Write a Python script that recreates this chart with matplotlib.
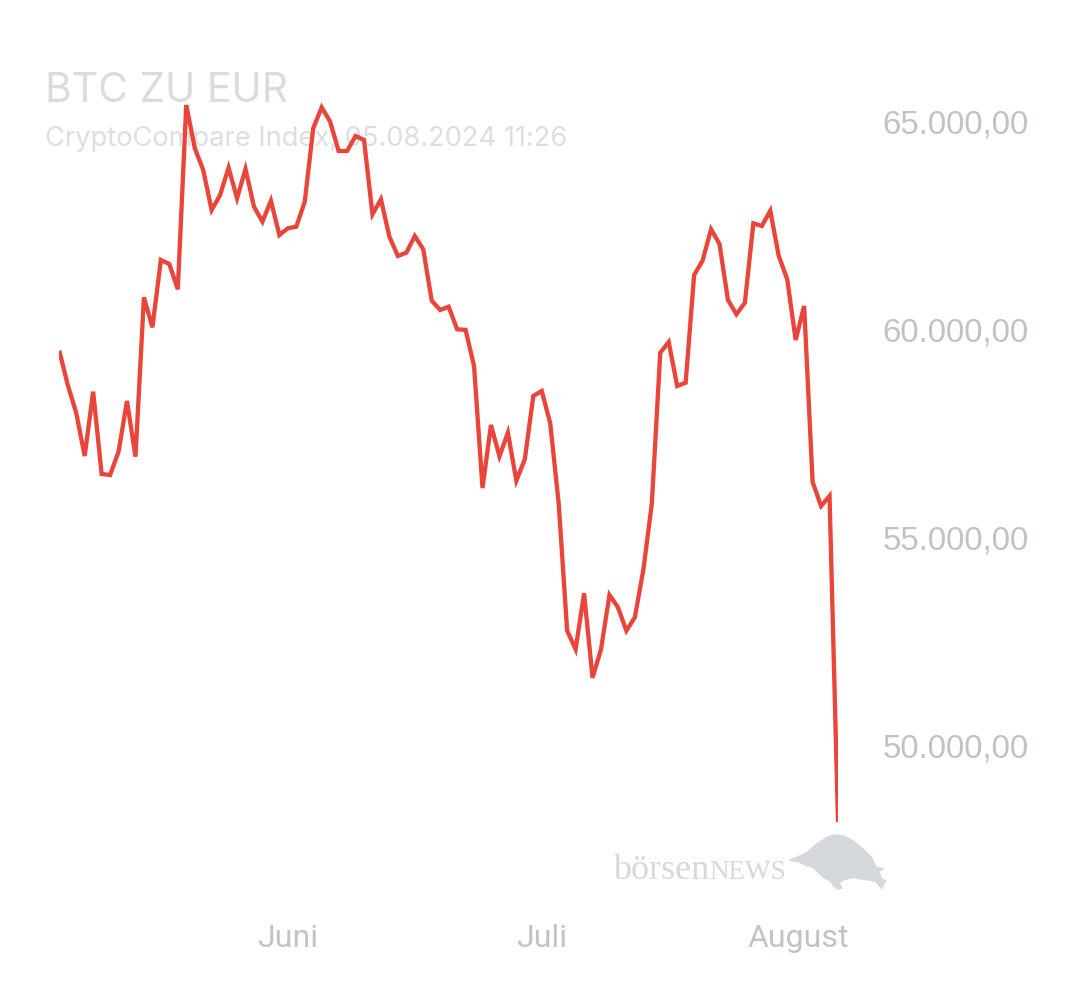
import matplotlib
matplotlib.use("Agg")
import matplotlib.pyplot as plt
from matplotlib.patches import Polygon
import matplotlib.transforms as mtransforms
import pandas as pd

# ---------------- data ----------------
start_date = "2024-05-05"
end_date = "2024-08-05"
prices = [
    59494, 58668, 57994, 56958, 58507, 56525, 56501, 57062, 58283, 56942,
    60779, 60057, 61677, 61581, 60972, 65409, 64374, 63844, 62881, 63242,
    63900, 63163, 63868, 62961, 62600, 63105, 62279, 62441, 62479, 63081,
    64848, 65354, 65007, 64302, 64302, 64663, 64567, 62778, 63139, 62238,
    61774, 61853, 62255, 61935, 60697, 60474, 60553, 60009, 59995, 59125,
    56188, 57705, 56951, 57519, 56364, 56879, 58403, 58523, 57746, 55819,
    52752, 52304, 53652, 51620, 52304, 53612, 53315, 52752, 53074, 54214,
    55803, 59445, 59703, 58644, 58723, 61316, 61661, 62417, 62063, 60714,
    60370, 60649, 62561, 62496, 62864, 61774, 61213, 59751, 60570, 56332,
    55754, 55995, 48146,
]
y_ticks = [50000, 55000, 60000, 65000]
y_tick_labels = ["50.000,00", "55.000,00", "60.000,00", "65.000,00"]
x_tick_dates = ["2024-06-01", "2024-07-01", "2024-08-01"]
x_tick_labels = ["Juni", "Juli", "August"]
title = "BTC ZU EUR"
subtitle = "CryptoCompare Index, 05.08.2024 11:26"
logo_word = "börsen"
logo_caps = "NEWS"

dates = pd.date_range(start_date, end_date, freq="D")

# ---------------- layout ----------------
W, H = 1080, 990
fig = plt.figure(figsize=(W / 100, H / 100), dpi=100)
fig.patch.set_facecolor("white")

def fx(px):
    return px / W

def fy(py):
    return 1 - py / H

ax_left, ax_right, ax_top, ax_bottom = 59.3, 838.0, 60.0, 900.0
ax = fig.add_axes([fx(ax_left), fy(ax_bottom), fx(ax_right - ax_left), (ax_bottom - ax_top) / H])
ax.set_facecolor("none")
ax.set_zorder(5)

# value <-> pixel mapping
px_per_unit = (745 - 122) / 15000.0
y_top = 65000 + (122 - ax_top) / px_per_unit
y_bot = 65000 - (ax_bottom - 122) / px_per_unit

ax.plot(dates, prices, color="#e9453a", lw=3.1, solid_joinstyle="miter", solid_capstyle="butt", zorder=3)
ax.set_xlim(dates[0], dates[-1])
ax.set_ylim(y_bot, y_top)

for s in ax.spines.values():
    s.set_visible(False)

ax.yaxis.tick_right()
ax.set_yticks(y_ticks)
ax.set_yticklabels(y_tick_labels, fontfamily="Liberation Sans", fontsize=23.8, color="#bfc3c8")
ax.tick_params(axis="y", length=0, pad=32.0)

ax.set_xticks(pd.to_datetime(x_tick_dates))
ax.set_xticklabels(x_tick_labels, fontfamily="Roboto", fontsize=23, color="#c0c4c9")
ax.tick_params(axis="x", length=0, pad=17)
# the last month label sits slightly left of its tick in the reference
last = ax.get_xticklabels()[-1]
last.set_transform(last.get_transform() + mtransforms.ScaledTranslation(-6 / 100, 0, fig.dpi_scale_trans))

# ---------------- title / subtitle ----------------
t1 = fig.text(fx(45), fy(101.7), title, fontfamily="Inter", fontsize=28, color="#d9dbde",
              va="baseline", ha="left", zorder=1)
t2 = fig.text(fx(45), fy(146), subtitle, fontfamily="Inter", fontsize=19, color="#dcdee1",
              va="baseline", ha="left", zorder=1)

fig.canvas.draw()
r = fig.canvas.get_renderer()
for t, target in ((t1, 243.0), (t2, 523.0)):
    w = t.get_window_extent(r).width
    t.set_fontsize(t.get_fontsize() * target / w)

# ---------------- logo ----------------
lw1 = fig.text(fx(613), fy(879), logo_word, fontfamily="Liberation Serif", fontsize=26, color="#d5d8dc",
               va="baseline", ha="left", zorder=1)
fig.canvas.draw()
bb = lw1.get_window_extent(r)
fig.text(bb.x1 / W + 0.5 / W, fy(879), logo_caps, fontfamily="Liberation Serif", fontsize=19.5,
         color="#d5d8dc", va="baseline", ha="left", zorder=1)

bull_px = [
    (788.3, 860.0), (796.7, 856.7), (806.7, 851.7), (816.7, 843.0), (826.7, 836.7),
    (833.3, 834.3), (843.3, 835.0), (853.3, 840.0), (863.3, 848.3), (871.7, 856.7),
    (876.7, 866.7), (885.0, 868.3), (880.0, 871.7), (881.7, 878.3), (886.7, 880.0),
    (885.0, 883.3), (881.7, 890.0), (879.3, 886.7), (875.0, 881.7), (863.3, 880.0),
    (853.3, 878.3), (845.0, 880.0), (840.0, 883.3), (843.3, 888.3), (838.3, 890.0),
    (833.3, 886.7), (830.0, 881.7), (823.3, 878.3), (816.7, 871.7), (813.3, 868.3),
    (808.3, 866.7), (803.3, 865.0), (798.3, 862.3), (791.7, 861.7),
]
bull = Polygon([(fx(x), fy(y)) for x, y in bull_px], closed=True, transform=fig.transFigure,
               facecolor="#d5d8dc", edgecolor="none", zorder=1)
fig.patches.append(bull)

fig.savefig("out.png", dpi=100, facecolor="white")
